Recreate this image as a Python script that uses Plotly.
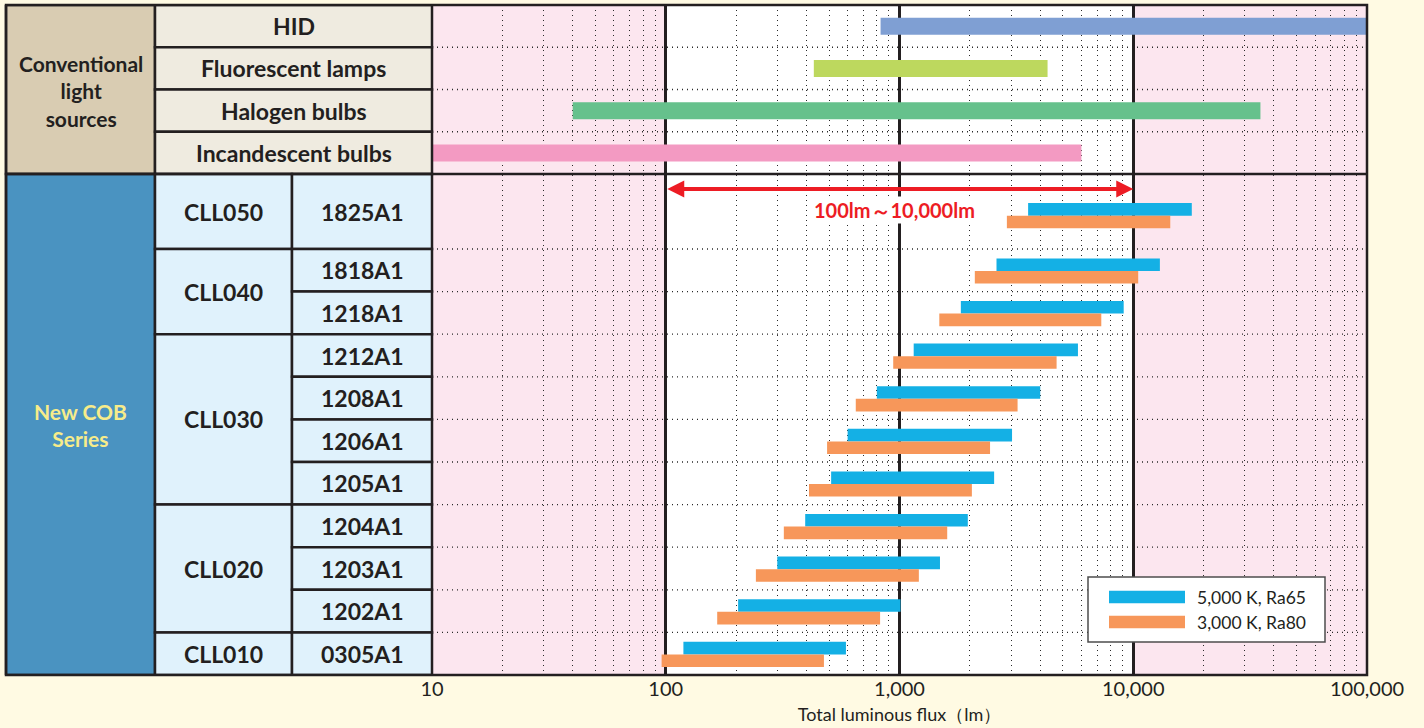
import numpy as np
import plotly.graph_objects as go

# ---------------- data ----------------
conv_names = ["HID", "Fluorescent lamps", "Halogen bulbs", "Incandescent bulbs"]
conv_start = [830, 430, 40, 10]
conv_end = [100000, 4300, 35000, 6000]
conv_colors = ["#7f9fd3", "#bdd85e", "#66c18c", "#f39ac2"]

cob_series = ["CLL050", "CLL040", "CLL040", "CLL030", "CLL030", "CLL030", "CLL030",
              "CLL020", "CLL020", "CLL020", "CLL010"]
cob_models = ["1825A1", "1818A1", "1218A1", "1212A1", "1208A1", "1206A1", "1205A1",
              "1204A1", "1203A1", "1202A1", "0305A1"]
blue_start = [3550, 2600, 1830, 1150, 800, 600, 510, 395, 300, 204, 119]
blue_end = [17800, 13000, 9100, 5800, 4000, 3030, 2540, 1960, 1490, 1010, 590]
orange_start = [2880, 2100, 1480, 940, 650, 490, 410, 320, 243, 166, 96]
orange_end = [14400, 10500, 7300, 4700, 3200, 2440, 2040, 1600, 1210, 826, 475]
legend_labels = ["5,000 K, Ra65", "3,000 K, Ra80"]
range_label = "100lm～10,000lm"
range_ends = [100, 10000]
x_ticks = [10, 100, 1000, 10000, 100000]
x_title = "Total luminous flux（lm）"

# ---------------- geometry ----------------
W, H = 1424, 728
ML, MR, MT, MB = 6, 57, 5, 53
PW = W - ML - MR
PH = H - MT - MB


def px2paper(px):
    return (px - ML) / PW


col_x = [px2paper(6), px2paper(155), px2paper(292), px2paper(432)]
dom0 = col_x[3]

conv_h = 169 / 4
conv_top = [i * conv_h for i in range(4)]
conv_ctr = [t + conv_h / 2 for t in conv_top]

cob_first = 75
cob_h = (PH - 169 - cob_first) / 10
cob_top = [169]
for i in range(1, 11):
    cob_top.append(169 + cob_first + (i - 1) * cob_h)
cob_bot = cob_top[1:] + [PH]
cob_ctr = [(t + b) / 2 for t, b in zip(cob_top, cob_bot)]
bar_ctr = list(cob_ctr)
bar_ctr[0] += 3.5          # first row leaves room for the range arrow
bar_ctr = [c + 0.7 for c in bar_ctr]

BLUE = "#14b0e5"
ORANGE = "#f7975a"
DARK = "#231f20"
FONT = "Lato"
TS = 23

fig = go.Figure()

fig.add_trace(go.Bar(
    orientation="h", y=conv_ctr, base=conv_start,
    x=[e - s for s, e in zip(conv_start, conv_end)],
    width=17, marker=dict(color=conv_colors, line=dict(width=0)),
    showlegend=False, hoverinfo="skip"))
fig.add_trace(go.Bar(
    orientation="h", y=[c - 6.3 for c in bar_ctr], base=blue_start,
    x=[e - s for s, e in zip(blue_start, blue_end)],
    width=12.6, marker=dict(color=BLUE, line=dict(width=0)),
    name=legend_labels[0], showlegend=False, hoverinfo="skip"))
fig.add_trace(go.Bar(
    orientation="h", y=[c + 6.3 for c in bar_ctr], base=orange_start,
    x=[e - s for s, e in zip(orange_start, orange_end)],
    width=12.6, marker=dict(color=ORANGE, line=dict(width=0)),
    name=legend_labels[1], showlegend=False, hoverinfo="skip"))

shapes = []
ann = []

# pink zones
for x0, x1 in [(10, 100), (10000, 100000)]:
    shapes.append(dict(type="rect", xref="x", yref="paper", x0=x0, x1=x1, y0=0, y1=1,
                       fillcolor="#fce6ef", line=dict(width=0), layer="below"))

# horizontal dotted row separators in plot
for y in conv_top[1:] + cob_top[1:]:
    shapes.append(dict(type="line", xref="paper", yref="y", x0=dom0, x1=1, y0=y, y1=y,
                       line=dict(color="#2a2a2a", width=1.3, dash="1px,4px"), layer="below"))


def rect(x0, x1, y0, y1, fill, lw=2.5):
    shapes.append(dict(type="rect", xref="paper", yref="y", x0=x0, x1=x1, y0=y0, y1=y1,
                       fillcolor=fill, line=dict(color=DARK, width=lw), layer="above"))


def label(x, y, text, color=DARK, size=TS, weight="bold", xanchor="center"):
    ann.append(dict(x=x, y=y, xref="paper", yref="y", text=text, showarrow=False,
                    xanchor=xanchor, yanchor="middle",
                    font=dict(family=FONT, size=size, color=color, weight=weight)))


rect(col_x[0], col_x[1], 0, 169, "#d9ccb2")
for t in conv_top:
    rect(col_x[1], col_x[3], t, t + conv_h, "#efebe0")
rect(col_x[0], col_x[1], 169, PH, "#4a93c1")

# series groups
groups = []
for i, s in enumerate(cob_series):
    if groups and groups[-1][0] == s:
        groups[-1][2] = i
    else:
        groups.append([s, i, i])
for s, i0, i1 in groups:
    rect(col_x[1], col_x[2], cob_top[i0], cob_bot[i1], "#e0f2fc")
    label((col_x[1] + col_x[2]) / 2, (cob_top[i0] + cob_bot[i1]) / 2, s)
for i, m in enumerate(cob_models):
    rect(col_x[2], col_x[3], cob_top[i], cob_bot[i], "#e0f2fc")
    label((col_x[2] + col_x[3]) / 2, cob_ctr[i], m)
for i, n in enumerate(conv_names):
    label((col_x[1] + col_x[3]) / 2, conv_ctr[i], n)
label((col_x[0] + col_x[1]) / 2, 169 / 2 + 1, "Conventional<br>light<br>sources", size=21)
label((col_x[0] + col_x[1]) / 2, (169 + PH) / 2, "New COB<br>Series", color="#f7ec8a",
      size=21)

# separator between conventional and COB, and outer frame
shapes.append(dict(type="line", xref="paper", yref="y", x0=0, x1=1, y0=169, y1=169,
                   line=dict(color=DARK, width=2.5), layer="above"))
shapes.append(dict(type="rect", xref="paper", yref="paper", x0=0, x1=1, y0=0, y1=1,
                   line=dict(color=DARK, width=2.5), layer="above"))

# range arrow
ya = 184
ann.append(dict(x=np.log10(range_ends[1]), y=ya, ax=np.log10(range_ends[0]), ay=ya,
                xref="x", yref="y", axref="x", ayref="y", text="", showarrow=True,
                arrowhead=2, startarrowhead=2, arrowside="end+start", arrowsize=0.85,
                startarrowsize=0.85, arrowwidth=4, arrowcolor="#ed1c24"))
ann.append(dict(x=np.mean(np.log10(range_ends)) - 0.02, y=205, xref="x", yref="y",
                text=range_label, showarrow=False, bgcolor="white",
                xanchor="center", yanchor="middle",
                font=dict(family=FONT, size=20, color="#ed1c24", weight="bold")))

# legend box
lx0, lx1 = px2paper(1088), px2paper(1325)
shapes.append(dict(type="rect", xref="paper", yref="y", x0=lx0, x1=lx1, y0=572, y1=637,
                   fillcolor="white", line=dict(color="#4d4d4d", width=1.5), layer="above"))
for k, (lab, col) in enumerate(zip(legend_labels, [BLUE, ORANGE])):
    yc = 592 + 25 * k
    shapes.append(dict(type="rect", xref="paper", yref="y", x0=px2paper(1109),
                       x1=px2paper(1185), y0=yc - 6.3, y1=yc + 6.3, fillcolor=col,
                       line=dict(width=0), layer="above"))
    label(px2paper(1195), yc, lab, size=17.5, weight="normal", xanchor="left")

fig.update_layout(
    width=W, height=H, margin=dict(l=ML, r=MR, t=MT, b=MB, autoexpand=False),
    paper_bgcolor="#fffae3", plot_bgcolor="white",
    barmode="overlay", shapes=shapes, annotations=ann,
    font=dict(family=FONT, color=DARK),
    xaxis=dict(type="log", domain=[dom0, 1], range=[1, 5], tickvals=x_ticks,
               separatethousands=True, exponentformat="none", automargin=False,
               tickfont=dict(size=20, color=DARK), ticks="",
               showgrid=True, gridcolor=DARK, gridwidth=2.5, zeroline=False,
               minor=dict(dtick="D1", showgrid=True, gridcolor="#2a2a2a", gridwidth=1.3,
                          griddash="1px,4px", ticks=""),
               title=dict(text=x_title, font=dict(size=18, color=DARK), standoff=9),
               showline=False),
    yaxis=dict(range=[PH, 0], showticklabels=False, showgrid=False, zeroline=False,
               ticks="", automargin=False),
)

fig.write_html("out.html", config={"displayModeBar": False},
               post_script="document.body.style.margin='0px';document.body.style.overflow='hidden';")
